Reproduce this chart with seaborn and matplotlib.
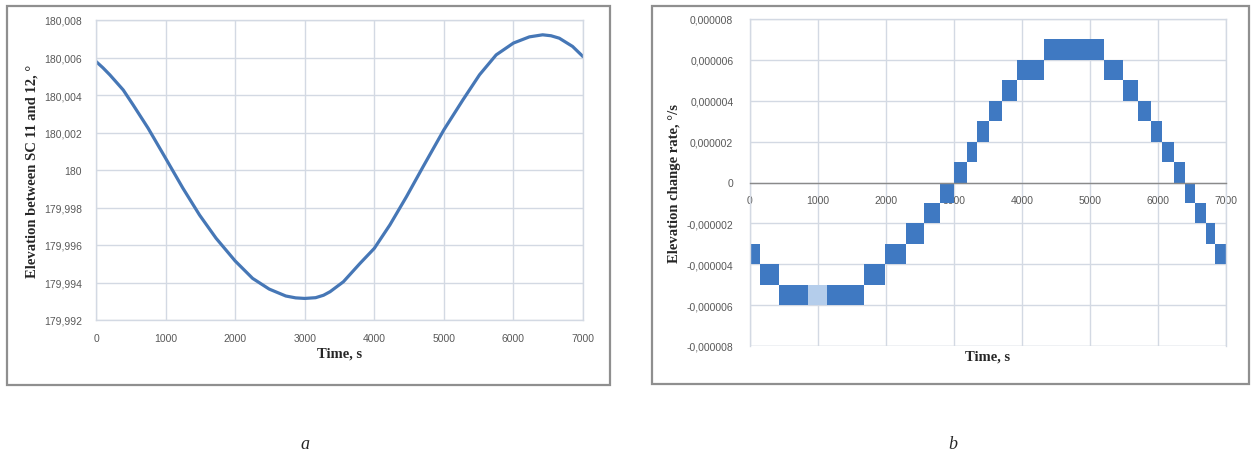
import numpy as np
import pandas as pd
import seaborn as sns
import matplotlib
matplotlib.use("Agg")
import matplotlib.pyplot as plt
from matplotlib.patches import Rectangle

# ---- (a) elevation between SC 11 and 12 ----
elev_time = [0, 100, 200, 391, 534, 749, 1000, 1249, 1488, 1726, 2000, 2251,
             2489, 2728, 2870, 3000, 3157, 3270, 3365, 3556, 3795, 4000, 4224,
             4463, 4702, 5000, 5274, 5513, 5752, 6000, 6229, 6420, 6540, 6659,
             6850, 7000]
elev_deg = [180.00579, 180.00545, 180.00507, 180.00427, 180.00347, 180.00223,
            180.00063, 179.99903, 179.99760, 179.99636, 179.99515, 179.99422,
            179.99365, 179.99328, 179.99318, 179.99315, 179.99319, 179.99332,
            179.99351, 179.99404, 179.99502, 179.99582, 179.99707, 179.99858,
            180.00018, 180.00214, 180.00374, 180.00508, 180.00614, 180.00677,
            180.00710, 180.00721, 180.00716, 180.00703, 180.00659, 180.00605]
elev_yticks = [179.992, 179.994, 179.996, 179.998, 180.0, 180.002, 180.004,
               180.006, 180.008]
elev_ylabels = ["179,992", "179,994", "179,996", "179,998", "180", "180,002",
                "180,004", "180,006", "180,008"]

# ---- (b) elevation change rate: quantised bands ----
rate_edges = [0, 150, 420, 1680, 1990, 2300, 2560, 2800, 3000, 3185, 3345, 3510,
              3700, 3930, 4320, 5200, 5490, 5700, 5895, 6065, 6230, 6400, 6545,
              6700, 6840, 7000]
rate_low = [-4, -5, -6, -5, -4, -3, -2, -1, 0, 1, 2, 3, 4, 5, 6, 5, 4, 3, 2, 1,
            0, -1, -2, -3, -4]          # lower bound of each band, 1e-6 deg/s
rate_quantum = 1e-6
sparse_span = [850, 1130]               # stretch with thinner switching
rate_yticks = [-8e-6, -6e-6, -4e-6, -2e-6, 0, 2e-6, 4e-6, 6e-6, 8e-6]
rate_ylabels = ["-0,000008", "-0,000006", "-0,000004", "-0,000002", "0",
                "0,000002", "0,000004", "0,000006", "0,000008"]

time_ticks = [0, 1000, 2000, 3000, 4000, 5000, 6000, 7000]

sns.set_style("white")
plt.rcParams["font.family"] = ["Liberation Sans", "DejaVu Sans"]

W, H = 1252, 456
fig = plt.figure(figsize=(W / 100, H / 100), dpi=100)

grid_c = "#d3d9e3"
tick_c = "#595959"
line_c = "#4677b6"
band_c = "#3f79c2"
label_font = dict(family=["Liberation Serif", "DejaVu Serif"], weight="bold", size=10.5)


def box(x0, y0, x1, y1):
    """Axes rectangle from pixel edges."""
    return [x0 / W, 1 - y1 / H, (x1 - x0) / W, (y1 - y0) / H]


def style(ax):
    ax.set_axisbelow(True)
    ax.grid(True, color=grid_c, lw=1)
    for s in ax.spines.values():
        s.set_color(grid_c)
        s.set_linewidth(1)
    ax.tick_params(length=0, colors=tick_c, labelsize=7.5)


# panel a
ax1 = fig.add_axes(box(96, 21, 583, 321))
df = pd.DataFrame({"t": elev_time, "e": elev_deg})
sns.lineplot(data=df, x="t", y="e", ax=ax1, color=line_c, lw=2.3,
             solid_joinstyle="round", solid_capstyle="round")
ax1.set_xlim(0, 7000)
ax1.set_ylim(179.992, 180.008)
ax1.set_xticks(time_ticks)
ax1.set_yticks(elev_yticks, elev_ylabels)
style(ax1)
ax1.tick_params(axis="x", pad=9)
ax1.tick_params(axis="y", pad=10)
ax1.set_xlabel("Time, s", **label_font)
ax1.set_ylabel("Elevation between SC 11 and 12, \u00b0", **label_font)
ax1.xaxis.set_label_coords(0.5, -0.09)
ax1.yaxis.set_label_coords(-0.118, 0.5)

# panel b
ax2 = fig.add_axes(box(750, 20, 1226, 347))
starts = np.array(rate_edges[:-1])
widths = np.diff(rate_edges)
lows = np.array(rate_low) * rate_quantum
ax2.bar(starts, rate_quantum, width=widths, bottom=lows, align="edge",
        color=band_c, linewidth=0, zorder=2)
sp_i = int(np.searchsorted(rate_edges, sparse_span[0], side="right") - 1)
ax2.bar(sparse_span[0], rate_quantum, width=sparse_span[1] - sparse_span[0],
        bottom=lows[sp_i], align="edge", color="#b4cdeb", linewidth=0, zorder=2.1)
ax2.set_xlim(0, 7000)
ax2.set_ylim(-8e-6, 8e-6)
ax2.set_xticks(time_ticks)
ax2.set_yticks(rate_yticks, rate_ylabels)
style(ax2)
ax2.spines["bottom"].set_position(("data", 0))
ax2.spines["bottom"].set_color("#8a8a8a")
ax2.axhline(-8e-6, color=grid_c, lw=1, zorder=0.4)
ax2.tick_params(axis="x", pad=9)
ax2.tick_params(axis="y", pad=12)
ax2.set_xlabel("Time, s", **label_font)
ax2.set_ylabel("Elevation change rate, \u00b0/s", **label_font)
ax2.xaxis.set_label_coords(0.5, -0.012)
ax2.yaxis.set_label_coords(-0.145, 0.5)

# chart-area frames
for x0, y0, x1, y1 in [(7, 7, 610, 386), (652, 7, 1249, 385)]:
    fig.add_artist(Rectangle((x0 / W, 1 - y1 / H), (x1 - x0) / W, (y1 - y0) / H,
                             transform=fig.transFigure, fill=False,
                             ec="#8f8f8f", lw=1.6))

# panel letters
letter_font = dict(family=["Liberation Serif", "DejaVu Serif"], style="italic",
                   size=13, ha="center", va="center")
fig.text(305 / W, 1 - 445 / H, "a", **letter_font)
fig.text(953 / W, 1 - 445 / H, "b", **letter_font)

fig.savefig("out.png", dpi=100)
